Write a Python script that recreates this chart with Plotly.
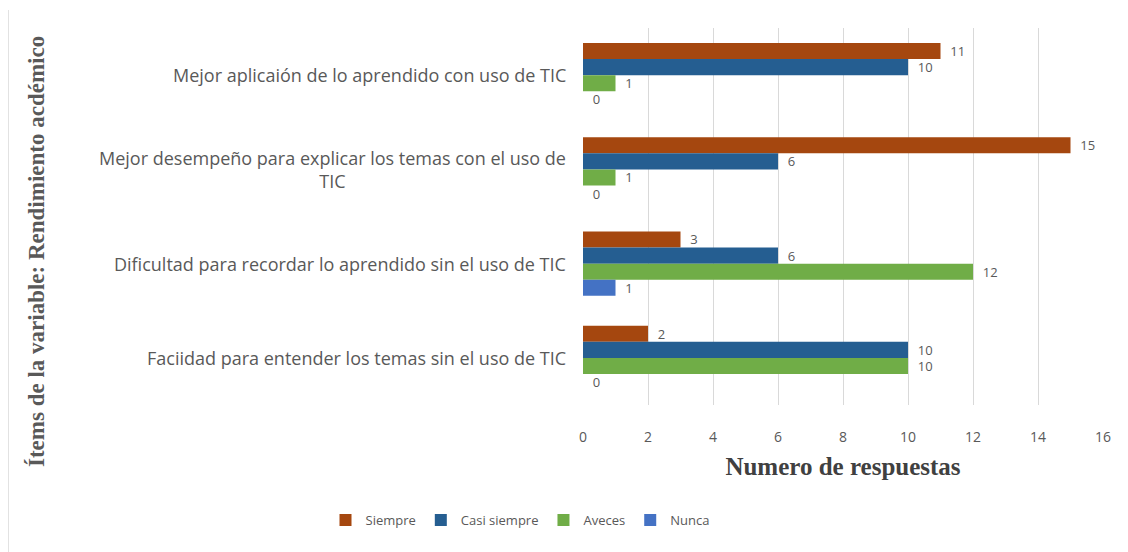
import plotly.graph_objects as go

categories = [
    "Mejor aplicaión de lo aprendido con uso de TIC",
    "Mejor desempeño para explicar los temas con el uso de<br>TIC",
    "Dificultad para recordar lo aprendido sin el uso de TIC",
    "Faciidad para entender los temas sin el uso de TIC",
]
series_names = ["Siempre", "Casi siempre", "Aveces", "Nunca"]
siempre = [11, 15, 3, 2]
casi_siempre = [10, 6, 6, 10]
aveces = [1, 1, 12, 10]
nunca = [0, 0, 1, 0]
x_ticks = [0, 2, 4, 6, 8, 10, 12, 14, 16]

colors = ["#A5470F", "#255E91", "#70AD47", "#4472C4"]
values = [siempre, casi_siempre, aveces, nunca]

# page body has an 8px offset; coordinates below are figure coordinates
OFF = 8
W, H = 1128, 552
L = 583 - OFF
T = 28 - OFF
R = W - (1103 - OFF)
B = H - (405 - OFF)
PW, PH = W - L - R, H - T - B


def px_x(x):
    return (x - OFF - L) / PW


def px_y(y):
    return (H - B - (y - OFF)) / PH


fig = go.Figure()
for name, vals, col in zip(series_names, values, colors):
    fig.add_trace(go.Bar(
        y=categories, x=vals, name=name, orientation="h",
        marker=dict(color=col, line=dict(width=0)),
        text=["\u00a0\u00a0" + str(v) for v in vals], textposition="outside",
        constraintext="none",
        textfont=dict(family="Open Sans", size=13, color="#595959"),
        cliponaxis=False,
    ))

annotations = [dict(text="<b>Ítems de la variable: Rendimiento acdémico</b>",
                    xref="paper", yref="paper",
                    x=px_x(36), y=px_y(252),
                    textangle=-90, showarrow=False, xanchor="center", yanchor="middle",
                    font=dict(family="Liberation Serif", size=23, color="#595959"))]
for cat in categories:
    annotations.append(dict(text=cat, xref="paper", yref="y", x=px_x(568), y=cat,
                            xanchor="right", yanchor="middle", align="center",
                            showarrow=False,
                            font=dict(family="Open Sans", size=18, color="#595959")))

fig.update_layout(
    width=W, height=H,
    margin=dict(l=L, r=R, t=T, b=B),
    paper_bgcolor="white", plot_bgcolor="white",
    barmode="group", bargap=0.317, bargroupgap=0,
    showlegend=True,
    legend=dict(orientation="h", x=px_x(520), xanchor="center", y=px_y(520), yanchor="middle",
                font=dict(family="Open Sans", size=13, color="#595959"),
                traceorder="normal", itemwidth=30),
    xaxis=dict(range=[0, 16], tickvals=x_ticks, showgrid=True, gridcolor="#D9D9D9",
               gridwidth=1, zeroline=False, showline=False,
               tickfont=dict(family="Open Sans", size=14, color="#595959"),
               ticks="", ticklabelstandoff=22,
               title=dict(text="<b>Numero de respuestas</b>", standoff=12,
                          font=dict(family="Liberation Serif", size=25, color="#404040"))),
    yaxis=dict(autorange="reversed", showgrid=False, zeroline=False, showline=False,
               showticklabels=False, ticks=""),
    shapes=[dict(type="line", xref="paper", yref="paper",
                 x0=px_x(8), x1=px_x(8),
                 y0=px_y(560), y1=px_y(10),
                 line=dict(color="#D9D9D9", width=1.5))],
    annotations=annotations,
)

fig.write_html("out.html")
